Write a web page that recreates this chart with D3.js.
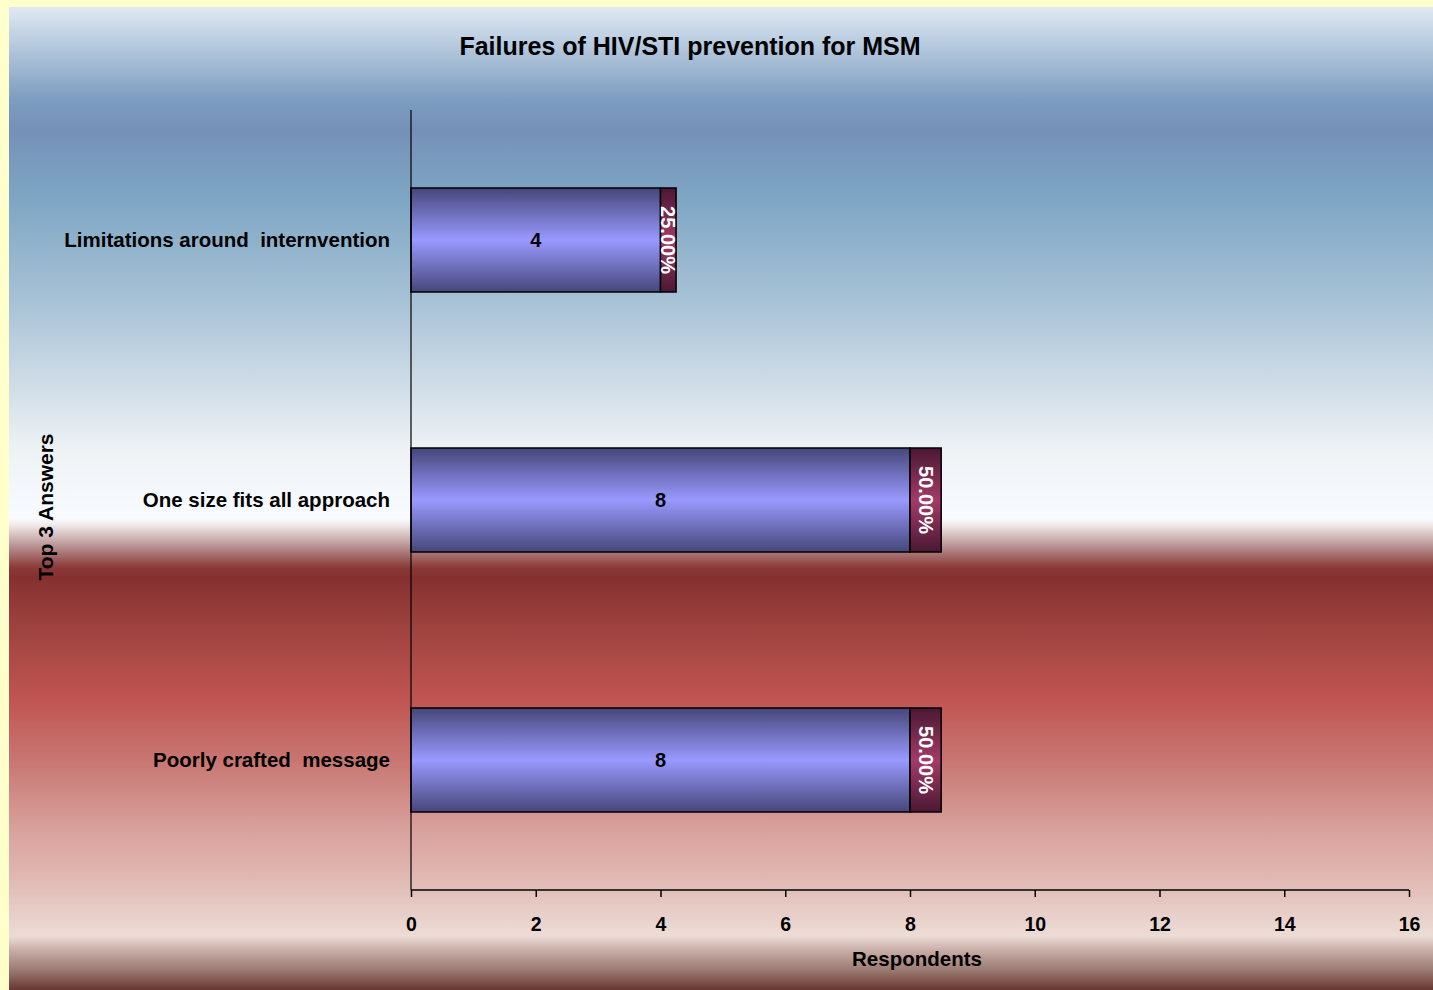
<!DOCTYPE html>
<html>
<head>
<meta charset="utf-8">
<script src="https://cdn.jsdelivr.net/npm/d3@7/dist/d3.min.js"></script>
<style>
  html, body { margin: 0; padding: 0; background: #ffffcc; }
  svg { display: block; }
  text { font-family: "Liberation Sans", Arial, sans-serif; font-weight: bold; }
</style>
</head>
<body>
<svg id="chart" width="1433" height="990"></svg>
<script>
// Survey answers, top to bottom
const categories = ["Limitations around  internvention", "One size fits all approach", "Poorly crafted  message"];
const respondents = [4, 8, 8];
const shares = [25, 50, 50];           // percent of respondents
const xTicks = [0, 2, 4, 6, 8, 10, 12, 14, 16];

const title = "Failures of HIV/STI prevention for MSM";
const xTitle = "Respondents";
const yTitle = "Top 3 Answers";

const W = 1433, H = 990;
const svg = d3.select("#chart");
const defs = svg.append("defs");

// Panel background: banded vertical gradient
const bg = defs.append("linearGradient").attr("id", "bgGrad")
  .attr("x1", 0).attr("y1", 0).attr("x2", 0).attr("y2", 1);
const bgStops = [
  [0.000, "#dfe9f3"], [0.095, "#7c9cc0"], [0.125, "#7690b8"], [0.195, "#7ea6c4"],
  [0.300, "#a8c2d6"], [0.380, "#cddbe6"], [0.450, "#eef2f5"], [0.520, "#f8fbff"],
  [0.527, "#f1e9e9"], [0.548, "#b99595"], [0.570, "#8a3a38"], [0.580, "#853030"],
  [0.625, "#9b413d"], [0.705, "#c05552"], [0.765, "#c87571"], [0.835, "#d8a09c"],
  [0.880, "#e0b5af"], [0.945, "#ecdcd6"], [0.960, "#c8aca6"], [0.980, "#9a7a72"],
  [1.000, "#6a3530"]
];
bgStops.forEach(([o, c]) => bg.append("stop").attr("offset", o).attr("stop-color", c));

// Bar gradients: dark edges, light centre
function barGradient(id, edge, mid) {
  const g = defs.append("linearGradient").attr("id", id)
    .attr("x1", 0).attr("y1", 0).attr("x2", 0).attr("y2", 1);
  g.append("stop").attr("offset", 0).attr("stop-color", edge);
  g.append("stop").attr("offset", 0.5).attr("stop-color", mid);
  g.append("stop").attr("offset", 1).attr("stop-color", edge);
}
barGradient("countGrad", "#46467a", "#9999ff");
barGradient("shareGrad", "#4a1832", "#a33a68");

svg.append("rect").attr("x", 9).attr("y", 7).attr("width", W - 9).attr("height", H - 7)
  .attr("fill", "url(#bgGrad)");

const plotL = 411, plotR = 1409, plotT = 110, plotB = 890;

const x = d3.scaleLinear().domain([0, 16]).range([plotL, plotR]);
const y = d3.scaleBand().domain(categories).range([plotT, plotB])
  .paddingInner(0.6).paddingOuter(0.3);

// Title
svg.append("text").attr("x", 690).attr("y", 55).attr("text-anchor", "middle")
  .attr("font-size", 25).text(title);

// Bars: respondent count followed by the percentage segment
const rows = categories.map((c, i) => ({ c, n: respondents[i], p: shares[i] }));
const g = svg.append("g");

g.selectAll("rect.count").data(rows).join("rect")
  .attr("class", "count")
  .attr("x", x(0)).attr("y", d => y(d.c))
  .attr("width", d => x(d.n) - x(0)).attr("height", y.bandwidth())
  .attr("fill", "url(#countGrad)").attr("stroke", "#000").attr("stroke-width", 1.5);

g.selectAll("rect.share").data(rows).join("rect")
  .attr("class", "share")
  .attr("x", d => x(d.n)).attr("y", d => y(d.c))
  .attr("width", d => x(d.n + d.p / 100) - x(d.n)).attr("height", y.bandwidth())
  .attr("fill", "url(#shareGrad)").attr("stroke", "#000").attr("stroke-width", 1.5);

g.selectAll("text.count").data(rows).join("text")
  .attr("class", "count")
  .attr("x", d => (x(0) + x(d.n)) / 2).attr("y", d => y(d.c) + y.bandwidth() / 2)
  .attr("dy", "0.35em").attr("text-anchor", "middle").attr("font-size", 20)
  .attr("fill", "#000").text(d => d.n);

g.selectAll("text.share").data(rows).join("text")
  .attr("class", "share")
  .attr("transform", d => `translate(${(x(d.n) + x(d.n + d.p / 100)) / 2},${y(d.c) + y.bandwidth() / 2}) rotate(90)`)
  .attr("dy", "0.35em").attr("text-anchor", "middle").attr("font-size", 20)
  .attr("fill", "#fff").text(d => d.p.toFixed(2) + "%");

// Axes
const xAxis = d3.axisBottom(x).tickValues(xTicks).tickSize(7).tickPadding(20);
const xg = svg.append("g").attr("transform", `translate(0,${plotB})`).call(xAxis);
xg.select(".domain").attr("stroke", "#000").attr("stroke-width", 1.5).attr("d", `M${plotL},0H${plotR}`);
xg.selectAll(".tick line").attr("stroke", "#000").attr("stroke-width", 1.5);
xg.selectAll(".tick text").attr("font-size", 19.5).attr("fill", "#000")
  .attr("font-family", "Liberation Sans, Arial, sans-serif");

const yAxis = d3.axisLeft(y).tickSize(0).tickPadding(21);
const yg = svg.append("g").attr("transform", `translate(${plotL},0)`).call(yAxis);
yg.select(".domain").attr("stroke", "#000").attr("stroke-width", 1.2).attr("d", `M0,${plotT}V${plotB}`);
yg.selectAll(".tick text").attr("font-size", 20.5).attr("fill", "#000")
  .attr("font-family", "Liberation Sans, Arial, sans-serif")
  .style("white-space", "pre");

// Axis titles
svg.append("text").attr("x", 917).attr("y", 966).attr("text-anchor", "middle")
  .attr("font-size", 20.5).text(xTitle);
svg.append("text").attr("transform", "translate(53,507) rotate(-90)")
  .attr("text-anchor", "middle").attr("font-size", 21).text(yTitle);
</script>
</body>
</html>
